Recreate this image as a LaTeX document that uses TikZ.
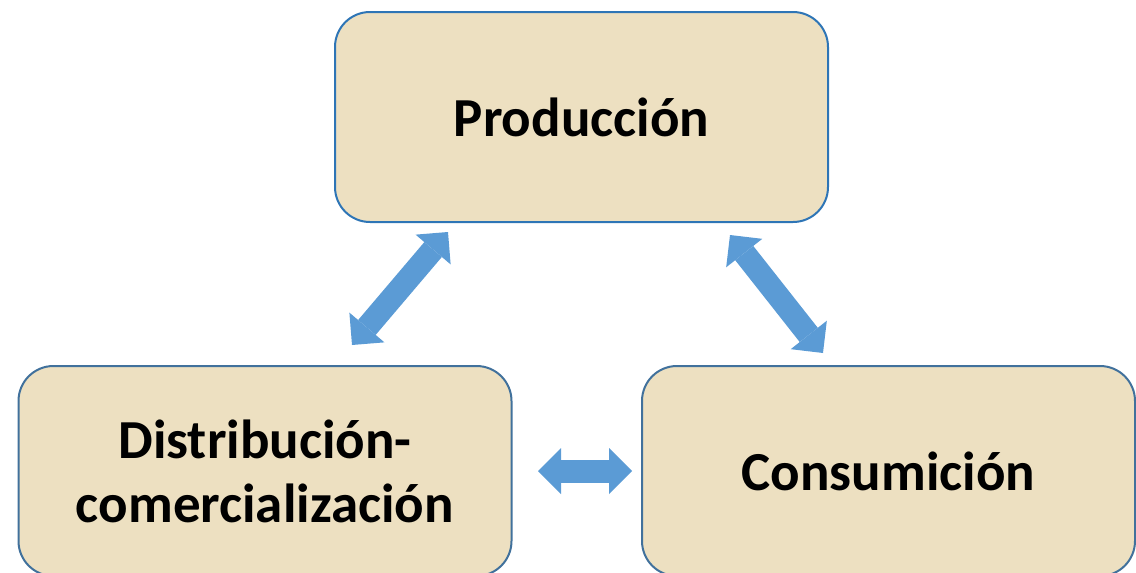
\documentclass[tikz,border=0pt]{standalone}
\usepackage{fontspec}
\setmainfont{Carlito}
\usetikzlibrary{arrows.meta}
\definecolor{caja}{RGB}{237,224,193}
\definecolor{bordesup}{RGB}{46,117,182}
\definecolor{bordeinf}{RGB}{65,113,156}
\definecolor{azulflecha}{RGB}{91,155,213}
\tikzset{
  etapa/.style={draw=bordeinf, line width=2pt, fill=caja, rounded corners=35pt,
    minimum width=493pt, minimum height=210pt, align=center,
    font=\fontsize{55}{64}\selectfont\bfseries},
  flecha/.style={draw=azulflecha, line width=23pt,
    {Triangle[length=23pt,width=46pt,line width=0pt]}-{Triangle[length=23pt,width=46pt,line width=0pt]}}
}
\begin{document}
\begin{tikzpicture}[x=1pt, y=-1pt]
    \useasboundingbox (0,0) rectangle (1136,573);

    \node[etapa, draw=bordesup] (prod) at (581.5,117) {Producción};
    \node[etapa] (dist) at (265,471) {Distribución-\\comercialización};
    \node[etapa] (cons) at (888.5,471) {Consumición};

    \coordinate (p1) at (448,232);
    \coordinate (d1) at (352,345);
    \coordinate (p2) at (730,235);
    \coordinate (c1) at (823,353);
    \coordinate (d2) at (538,471);
    \coordinate (c2) at (632,471);

    \draw[flecha] (d1) -- (p1);
    \draw[flecha] (p2) -- (c1);
    \draw[flecha] (d2) -- (c2);
\end{tikzpicture}
\end{document}
